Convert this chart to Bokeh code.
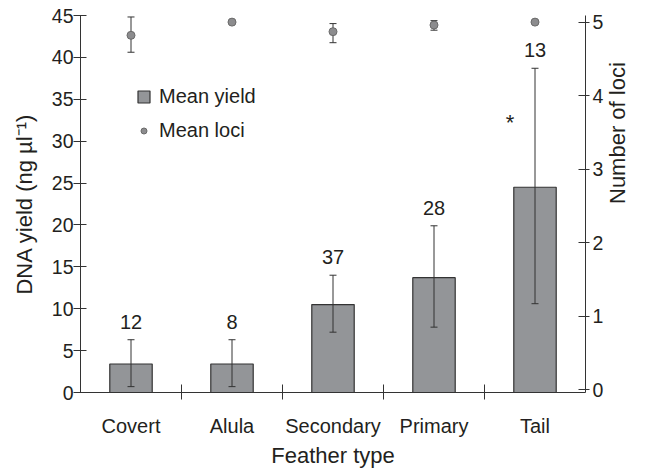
import math
import numpy as np
from bokeh.plotting import figure
from bokeh.models import (ColumnDataSource, Range1d, LinearAxis, FixedTicker,
                          Whisker, TeeHead, Legend, LegendItem)
from bokeh.core.properties import value
from bokeh.embed import file_html
from bokeh.resources import INLINE

# ---- data ----
feathers = ["Covert", "Alula", "Secondary", "Primary", "Tail"]
yield_mean = [3.4, 3.4, 10.5, 13.7, 24.5]
yield_lower = [0.7, 0.7, 7.2, 7.8, 10.6]
yield_upper = [6.3, 6.3, 14.0, 19.9, 38.7]
sample_n = ["12", "8", "37", "28", "13"]
sig_marks = ["", "", "", "", "*"]
loci_mean = [4.82, 5.0, 4.87, 4.96, 5.0]
loci_lower = [4.59, 5.0, 4.72, 4.89, 5.0]
loci_upper = [5.07, 5.0, 4.98, 5.02, 5.0]
yield_ticks = [0, 5, 10, 15, 20, 25, 30, 35, 40, 45]
loci_ticks = [0, 1, 2, 3, 4, 5]

FONT = "Liberation Sans"
TXT = "#231f20"
LINE = "#333333"

xc = np.arange(len(feathers)) + 0.5
src = ColumnDataSource(dict(x=xc, ym=yield_mean, ylo=yield_lower, yhi=yield_upper,
                            n=sample_n, sig=sig_marks,
                            lm=loci_mean, llo=loci_lower, lhi=loci_upper))

p = figure(width=645, height=470, output_backend="svg", toolbar_location=None,
           x_range=Range1d(0, len(feathers)), y_range=Range1d(0, 45),
           min_border_left=80, min_border_right=59, min_border_top=15, min_border_bottom=75)
p.extra_y_ranges = {"loci": Range1d(-0.04, 5.09)}
p.outline_line_color = None
p.grid.visible = False
p.background_fill_color = "white"
p.border_fill_color = "white"

bars = p.vbar(x="x", top="ym", bottom=0, width=0.42, source=src,
              fill_color="#939598", line_color=LINE, line_width=1.2)

bw = Whisker(source=src, base="x", lower="ylo", upper="yhi", dimension="height",
             line_color=LINE, line_width=1, level="annotation",
             lower_head=TeeHead(size=7, line_color=LINE, line_width=1),
             upper_head=TeeHead(size=7, line_color=LINE, line_width=1))
p.add_layout(bw)

lw = Whisker(source=src, base="x", lower="llo", upper="lhi", dimension="height",
             y_range_name="loci", line_color=LINE, line_width=1, level="underlay",
             lower_head=TeeHead(size=7, line_color=LINE, line_width=1),
             upper_head=TeeHead(size=7, line_color=LINE, line_width=1))
p.add_layout(lw)

pts = p.scatter(x="x", y="lm", source=src, y_range_name="loci", size=8,
                fill_color="#8c8c8e", line_color="#6a6a6a", line_width=1)

p.text(x="x", y="yhi", text="n", source=src, text_font=value(FONT),
       text_font_size="20px", text_color=TXT, text_align="center",
       text_baseline="bottom", y_offset=-11)
p.text(x="x", y="yhi", text="sig", source=src, text_font=value(FONT),
       text_font_size="22px", text_color=TXT, text_align="center",
       text_baseline="middle", x_offset=-25, y_offset=54)

# x axis
xa = p.xaxis[0]
xa.ticker = FixedTicker(ticks=list(xc), minor_ticks=list(np.arange(1, len(feathers))))
xa.major_label_overrides = {float(v): f for v, f in zip(xc, feathers)}
xa.major_tick_line_color = None
xa.major_tick_in = 0
xa.major_tick_out = 0
xa.minor_tick_in = 8
xa.minor_tick_out = 7
xa.minor_tick_line_color = LINE
xa.axis_line_color = LINE
xa.major_label_text_font = FONT
xa.major_label_text_font_size = "20px"
xa.major_label_text_color = TXT
xa.major_label_standoff = 15
xa.axis_label = "Feather type"
xa.axis_label_text_font = FONT
xa.axis_label_text_font_size = "22px"
xa.axis_label_text_font_style = "normal"
xa.axis_label_text_color = TXT
xa.axis_label_standoff = 3

# left axis
ya = p.yaxis[0]
ya.ticker = FixedTicker(ticks=yield_ticks)
ya.minor_tick_line_color = None
ya.minor_tick_out = 0
ya.minor_tick_in = 0
ya.major_tick_in = 6
ya.major_tick_out = 7
ya.major_tick_line_color = LINE
ya.axis_line_color = LINE
ya.major_label_text_font = FONT
ya.major_label_text_font_size = "19.5px"
ya.major_label_text_color = TXT
ya.major_label_standoff = 0
ya.axis_label = "DNA yield (ng µl⁻¹)"
ya.axis_label_text_font = FONT
ya.axis_label_text_font_size = "22px"
ya.axis_label_text_font_style = "normal"
ya.axis_label_text_color = TXT
ya.axis_label_standoff = 12

# right axis
ra = LinearAxis(y_range_name="loci", ticker=FixedTicker(ticks=loci_ticks))
ra.minor_tick_line_color = None
ra.minor_tick_out = 0
ra.minor_tick_in = 0
ra.major_tick_in = 7
ra.major_tick_out = 4
ra.major_tick_line_color = LINE
ra.axis_line_color = LINE
ra.major_label_text_font = FONT
ra.major_label_text_font_size = "19.5px"
ra.major_label_text_color = TXT
ra.major_label_standoff = 3
ra.axis_label = "Number of loci"
ra.axis_label_orientation = math.pi / 2
ra.axis_label_text_font = FONT
ra.axis_label_text_font_size = "22px"
ra.axis_label_text_font_style = "normal"
ra.axis_label_text_color = TXT
ra.axis_label_standoff = 11
p.add_layout(ra, "right")

legend = Legend(items=[LegendItem(label="Mean yield", renderers=[bars]),
                       LegendItem(label="Mean loci", renderers=[pts])],
                location=(56, 250), padding=0, margin=0, spacing=11,
                glyph_width=15, glyph_height=15, label_height=22,
                label_standoff=8, label_text_font=FONT, label_text_font_size="20px",
                label_text_color=TXT, border_line_color=None,
                background_fill_alpha=0)
p.add_layout(legend)

open("out.html", "w").write(file_html(p, INLINE))
